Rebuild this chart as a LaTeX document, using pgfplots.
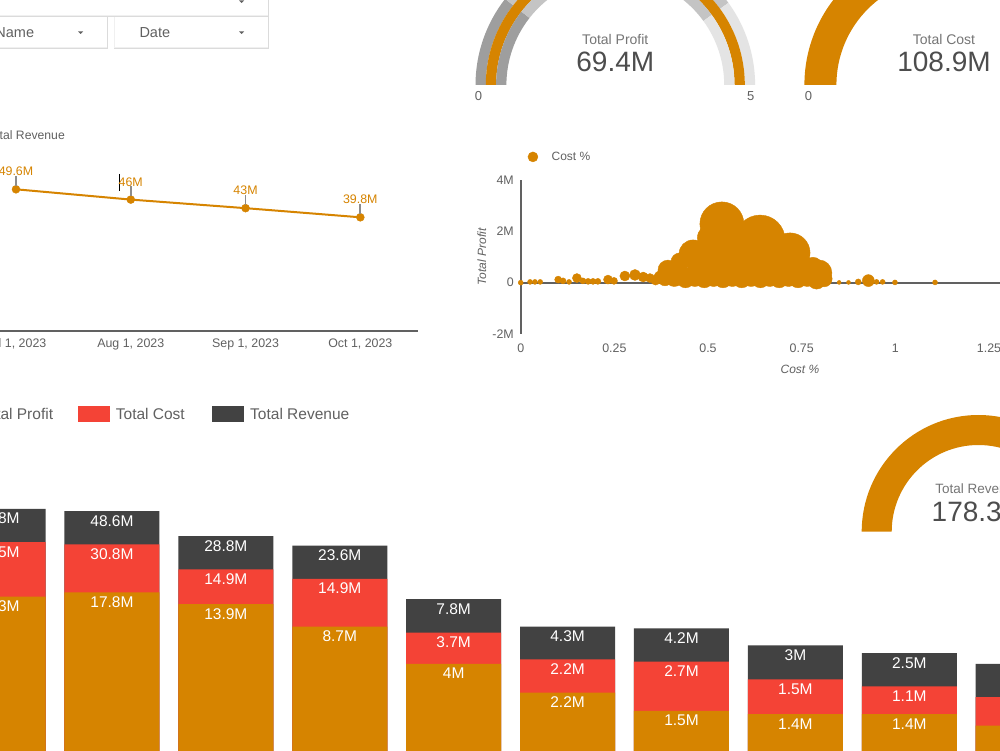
\documentclass[border=0pt]{standalone}
\usepackage{pgfplots}
\pgfplotsset{compat=1.18}
\usepackage{pgfplotstable}
\usepackage{fontspec}
\setmainfont{Liberation Sans}
\pgfplotsset{/pgf/number format/assume math mode=true}
\definecolor{cOr}{HTML}{D68400}
\definecolor{cRed}{HTML}{F44336}
\definecolor{cDark}{HTML}{424242}
\definecolor{cTxt}{HTML}{616161}
\definecolor{cTxtL}{HTML}{757575}
\definecolor{cVal}{HTML}{4D4D4D}
\definecolor{cLead}{HTML}{8C8C8C}
\definecolor{gDark}{HTML}{9E9E9E}
\definecolor{gMed}{HTML}{C4C4C4}
\definecolor{gLight}{HTML}{E4E4E4}
\newcommand\fs[1]{\fontsize{#1}{#1}\selectfont}
\newcommand\sector[7]{\fill[#7] ([shift={(#1,#2)}]#5:#4) arc[start angle=#5,end angle=#6,radius=#4] -- ([shift={(#1,#2)}]#6:#3) arc[start angle=#6,end angle=#5,radius=#3] -- cycle;}
\newcommand\filterbox[4]{\fill[black!14] (#1-0.6,#2-1.6) rectangle (#3+0.8,#4+0.4);\fill[black!6] (#1-0.4,#2-0.6) rectangle (#3+0.4,#4+0.4);\fill[white] (#1,#2) rectangle (#3,#4);}
\newcommand\ddarrow[2]{\fill[cTxt] (#1-2.5,#2+1.2) -- (#1+2.5,#2+1.2) -- (#1,#2-1.3) -- cycle;}

\pgfplotstableread{
i p c r
0 16.3 34.5 50.8
1 17.8 30.8 48.6
2 13.9 14.9 28.8
3 8.7 14.9 23.6
4 4 3.7 7.8
5 2.2 2.2 4.3
6 1.5 2.7 4.2
7 1.4 1.5 3
8 1.4 1.1 2.5
9 1.1 0.9 2
}\bardata

\pgfplotstableread{
x y r
0 0 2.5
0.025 0.03 2.5
0.038 0.03 2.5
0.052 0.03 2.5
0.1 0.12 3.5
0.113 0.07 3
0.129 0.03 2.5
0.15 0.18 4.5
0.166 0.07 3
0.18 0.05 3
0.193 0.05 3
0.206 0.05 3
0.233 0.12 4.5
0.249 0.07 3.5
0.278 0.26 5
0.305 0.3 5.5
0.327 0.22 5
0.345 0.18 4.5
0.36 0.1 5
0.372 0.22 6
0.385 0.15 7
0.393 0.49 10
0.41 0.2 9
0.425 0.81 9
0.436 0.3 8
0.44 0.15 9
0.46 1.12 14
0.465 0.2 9
0.479 0.49 13
0.49 0.15 9
0.509 1.74 14
0.515 0.2 9
0.519 0.73 20
0.537 2.29 22
0.54 0.15 9
0.565 0.2 9
0.572 1.35 20
0.59 0.15 9
0.599 0.73 20
0.615 0.2 9
0.639 1.66 25
0.64 0.15 9
0.665 0.2 9
0.679 0.65 18
0.69 0.15 9
0.715 0.2 9
0.719 1.16 20
0.74 0.15 9
0.746 0.42 13
0.765 0.2 9
0.78 0.6 10
0.79 0.1 9
0.796 0.38 13
0.81 0.15 8
0.85 0.01 2
0.875 0.01 2
0.901 0.03 3
0.928 0.08 6
0.95 0.03 2.5
0.966 0.03 2.5
0.999 0.01 2.5
1.106 0.01 2.5
}\bubbles

\begin{document}
\begin{tikzpicture}
\useasboundingbox (0pt,0pt) rectangle (1000pt,750pt);
\clip (0pt,0pt) rectangle (1000pt,750pt);
\fill[white] (0pt,0pt) rectangle (1000pt,750pt);

\begin{scope}[x=1pt,y=1pt]
% ---------- filter controls ----------
\filterbox{-10}{735}{268}{770}
\filterbox{-10}{703}{107}{733}
\filterbox{114.7}{703}{268}{733}
\ddarrow{241.7}{748.3}
\ddarrow{80.7}{717.3}
\ddarrow{241.7}{717.3}
\node[anchor=base east, font=\fs{14.5}, text=cTxt, inner sep=0pt] at (34.3,712.7) {Name};
\node[anchor=base west, font=\fs{14.5}, text=cTxt, inner sep=0pt] at (139.3,712.7) {Date};

% ---------- gauge 1: Total Profit ----------
\sector{615.3}{665}{129.5}{139.8}{180}{142}{gDark}
\sector{615.3}{665}{129.5}{139.8}{142}{36}{gMed}
\sector{615.3}{665}{129.5}{139.8}{36}{0}{gLight}
\sector{615.3}{665}{119.2}{129.5}{180}{0}{cOr}
\sector{615.3}{665}{108.9}{119.2}{180}{142}{gDark}
\sector{615.3}{665}{108.9}{119.2}{142}{36}{gMed}
\sector{615.3}{665}{108.9}{119.2}{36}{0}{gLight}
\node[anchor=base, font=\fs{14}, text=cTxtL, inner sep=0pt] at (615.3,705.7) {Total Profit};
\node[anchor=base, font=\fs{28}, text=cVal, inner sep=0pt] at (615.3,678) {69.4M};
\node[anchor=base, font=\fs{13}, text=cTxt, inner sep=0pt] at (478.5,649) {0};
\node[anchor=base, font=\fs{13}, text=cTxt, inner sep=0pt] at (750.7,649) {5};

% ---------- gauge 2: Total Cost ----------
\sector{944}{665}{107.6}{139.6}{180}{0}{cOr}
\node[anchor=base, font=\fs{14}, text=cTxtL, inner sep=0pt] at (944,705.7) {Total Cost};
\node[anchor=base, font=\fs{28}, text=cVal, inner sep=0pt] at (944,678) {108.9M};
\node[anchor=base, font=\fs{13}, text=cTxt, inner sep=0pt] at (808.5,649) {0};

% line chart legend text and cursor
\node[anchor=base east, font=\fs{12.2}, text=cTxt, inner sep=0pt] at (65,610.7) {Total Revenue};
\draw[black, line width=0.8pt] (119.3,576) -- (119.3,559.3);

% bar legend
\fill[cOr] (-56,328.3) rectangle (-24,344);
\node[anchor=base east, font=\fs{15.5}, text=cTxt, inner sep=0pt] at (53.3,330) {Total Profit};
\fill[cRed] (77.7,328.3) rectangle (110,344);
\node[anchor=base west, font=\fs{15.5}, text=cTxt, inner sep=0pt] at (115.7,330) {Total Cost};
\fill[cDark] (212,328.3) rectangle (244,344);
\node[anchor=base west, font=\fs{15.5}, text=cTxt, inner sep=0pt] at (250,330) {Total Revenue};

% ---------- gauge 3: Total Revenue ----------
\sector{978.4}{218.3}{86.7}{116.7}{180}{0}{cOr}
\node[anchor=base, font=\fs{13.5}, text=cTxtL, inner sep=0pt] at (978.4,256.7) {Total Revenue};
\node[anchor=base, font=\fs{28}, text=cVal, inner sep=0pt] at (978.4,228.3) {178.3M};
\end{scope}

% ---------- line chart: Total Revenue ----------
\begin{axis}[at={(-41.4pt,419pt)}, anchor=south west, scale only axis,
  width=459.8pt, height=171.4pt,
  xmin=-0.5, xmax=3.506, ymin=0, ymax=60,
  axis x line*=bottom, axis y line=none,
  x axis line style={cTxt, line width=2.7pt},
  xtick={0,1,2,3},
  xticklabels={{Jul 1, 2023},{Aug 1, 2023},{Sep 1, 2023},{Oct 1, 2023}},
  major tick length=0pt,
  xticklabel style={font=\fs{12.4}, text=cTxt, yshift=-4pt},
  clip=false]
\addplot[cOr, line width=2pt, mark=*, mark size=4pt,
  mark options={fill=cOr, draw=cOr, line width=0.4pt},
  point meta=y,
  nodes near coords={\pgfmathprintnumber{\pgfplotspointmeta}M\\[-2.4pt]{\color{cLead}\rule{1.8pt}{10pt}}},
  every node near coord/.style={align=center, anchor=south, inner sep=0pt, yshift=3.3pt, font=\fs{12.4}, text=cOr}]
coordinates {(0,49.6) (1,46) (2,43) (3,39.8)};
\end{axis}

% ---------- bubble chart ----------
\begin{axis}[at={(520.7pt,416pt)}, anchor=south west, scale only axis,
  width=505pt, height=154pt,
  xmin=0, xmax=1.348, ymin=-2, ymax=4,
  axis x line*=bottom, axis y line*=left,
  x axis line style={draw=none}, y axis line style={cTxt, line width=2pt},
  xtick={0,0.25,0.5,0.75,1,1.25}, ytick={-2,0,2,4}, yticklabels={-2M,0,2M,4M},
  major tick length=0pt,
  tick label style={font=\fs{12.4}, text=cTxt},
  xticklabel style={yshift=-6pt},
  yticklabel style={xshift=-3.4pt},
  xlabel={\itshape Cost \%}, ylabel={\itshape Total Profit},
  label style={font=\fs{12}, text=cTxt},
  xlabel style={at={(axis description cs:0.553,-0.227)}, anchor=center},
  ylabel style={at={(axis description cs:-0.077,0.5)}, anchor=center},
  clip=false,
  legend style={at={(axis description cs:0.0135,1.15)}, anchor=west, draw=none, fill=none, inner sep=0pt, font=\fs{12}, text=cTxt, nodes={inner sep=0pt}},
  legend image code/.code={\fill[cOr] (0pt,0pt) circle (5pt); \path (18.5pt,0pt);}]
\draw[cTxt, line width=1.8pt] (axis cs:0,0) -- (axis cs:1.4,0);
\addplot[scatter, only marks, mark=*,
  scatter/use mapped color={draw=cOr, fill=cOr},
  visualization depends on={\thisrow{r}\as\rr},
  scatter/@pre marker code/.append style={/tikz/mark size=\rr}]
  table[x=x, y=y] {\bubbles};
\addlegendentry{Cost \%}
\end{axis}

% ---------- stacked bars (log scale) ----------
\begin{axis}[at={(-70.3pt,-13.5pt)}, anchor=south west, scale only axis,
  width=1150.4pt, height=287pt,
  xmin=-0.6, xmax=9.5, ymode=log, ymin=0.5, ymax=200, log origin=infty,
  hide axis]
\addplot[ybar, bar width=95pt, bar shift=0pt, fill=cDark, draw=none, point meta=explicit,
  nodes near coords={\pgfmathprintnumber{\pgfplotspointmeta}M},
  every node near coord/.style={anchor=north, inner sep=0pt, yshift=-4pt, font=\fs{15.5}, text=white}]
  table[x=i, y expr=\thisrow{p}+\thisrow{c}+\thisrow{r}, meta=r] {\bardata};
\addplot[ybar, bar width=95pt, bar shift=0pt, fill=cRed, draw=none, point meta=explicit,
  nodes near coords={\pgfmathprintnumber{\pgfplotspointmeta}M},
  every node near coord/.style={anchor=north, inner sep=0pt, yshift=-4pt, font=\fs{15.5}, text=white}]
  table[x=i, y expr=\thisrow{p}+\thisrow{c}, meta=c] {\bardata};
\addplot[ybar, bar width=95pt, bar shift=0pt, fill=cOr, draw=none, point meta=explicit,
  nodes near coords={\pgfmathprintnumber{\pgfplotspointmeta}M},
  every node near coord/.style={anchor=north, inner sep=0pt, yshift=-4pt, font=\fs{15.5}, text=white}]
  table[x=i, y=p, meta=p] {\bardata};
\end{axis}
\end{tikzpicture}
\end{document}
